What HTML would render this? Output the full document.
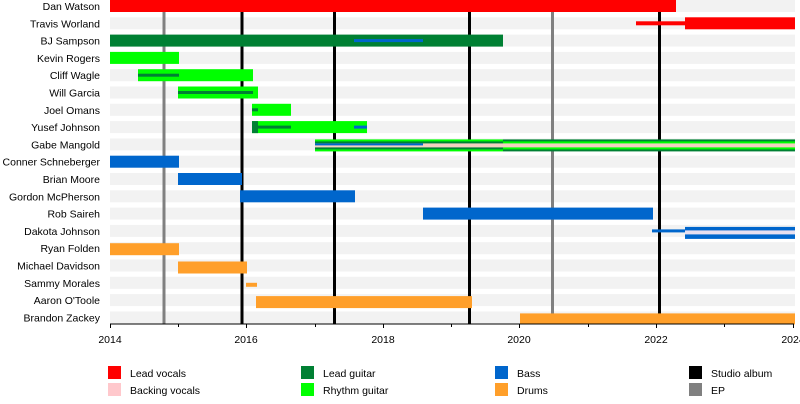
<!DOCTYPE html>
<html><head><meta charset="utf-8"><style>
html,body{margin:0;padding:0;background:#fff;width:800px;height:404px;overflow:hidden}
svg{display:block;font-family:"Liberation Sans",sans-serif}
</style></head><body>
<svg width="800" height="404" viewBox="0 0 800 404">
<g fill="#f2f2f2">
<rect x="110" y="0" width="685" height="12"/><rect x="110" y="17.3" width="685" height="12"/><rect x="110" y="34.6" width="685" height="12"/><rect x="110" y="51.9" width="685" height="12"/><rect x="110" y="69.2" width="685" height="12"/><rect x="110" y="86.5" width="685" height="12"/><rect x="110" y="103.8" width="685" height="12"/><rect x="110" y="121.1" width="685" height="12"/><rect x="110" y="138.4" width="685" height="12"/><rect x="110" y="155.7" width="685" height="12"/><rect x="110" y="173" width="685" height="12"/><rect x="110" y="190.3" width="685" height="12"/><rect x="110" y="207.6" width="685" height="12"/><rect x="110" y="224.9" width="685" height="12"/><rect x="110" y="242.2" width="685" height="12"/><rect x="110" y="259.5" width="685" height="12"/><rect x="110" y="276.8" width="685" height="12"/><rect x="110" y="294.1" width="685" height="12"/><rect x="110" y="311.4" width="685" height="12"/>
</g>
<g font-size="10.5" fill="#000" text-anchor="end">
<text x="100" y="10">Dan Watson</text><text x="100" y="27.3">Travis Worland</text><text x="100" y="44.6">BJ Sampson</text><text x="100" y="61.9">Kevin Rogers</text><text x="100" y="79.2">Cliff Wagle</text><text x="100" y="96.5">Will Garcia</text><text x="100" y="113.8">Joel Omans</text><text x="100" y="131.1">Yusef Johnson</text><text x="100" y="148.4">Gabe Mangold</text><text x="100" y="165.7">Conner Schneberger</text><text x="100" y="183">Brian Moore</text><text x="100" y="200.3">Gordon McPherson</text><text x="100" y="217.6">Rob Saireh</text><text x="100" y="234.9">Dakota Johnson</text><text x="100" y="252.2">Ryan Folden</text><text x="100" y="269.5">Michael Davidson</text><text x="100" y="286.8">Sammy Morales</text><text x="100" y="304.1">Aaron O'Toole</text><text x="100" y="321.4">Brandon Zackey</text>
</g>
<g>
<rect x="162.5" y="12" width="3" height="312" fill="#808080"/>
<rect x="240.5" y="12" width="3" height="312" fill="#000"/>
<rect x="333" y="12" width="3" height="312" fill="#000"/>
<rect x="468" y="12" width="3" height="312" fill="#000"/>
<rect x="551" y="12" width="3" height="312" fill="#808080"/>
<rect x="658" y="12" width="3" height="312" fill="#000"/>
</g>
<rect x="110" y="0" width="566" height="12" fill="#ff0000"/>
<rect x="636" y="21.3" width="49" height="4" fill="#ff0000"/>
<rect x="685" y="17.3" width="110" height="12" fill="#ff0000"/>
<rect x="110" y="34.6" width="393" height="12" fill="#008033"/>
<rect x="354" y="39.1" width="69" height="3" fill="#0066cc"/>
<rect x="110" y="51.9" width="69" height="12" fill="#00ff00"/>
<rect x="138" y="69.2" width="115" height="12" fill="#00ff00"/>
<rect x="138" y="73.7" width="41" height="3" fill="#008033"/>
<rect x="178" y="86.5" width="80" height="12" fill="#00ff00"/>
<rect x="178" y="91" width="75" height="3" fill="#008033"/>
<rect x="252" y="103.8" width="39" height="12" fill="#00ff00"/>
<rect x="252" y="108.3" width="6" height="3" fill="#008033"/>
<rect x="252" y="121.1" width="115" height="12" fill="#00ff00"/>
<rect x="252" y="125.6" width="39" height="3" fill="#008033"/>
<rect x="252" y="121.1" width="6" height="12" fill="#008033"/>
<rect x="354" y="125.6" width="13" height="3" fill="#0066cc"/>
<rect x="315" y="139.4" width="188" height="12" fill="#00ff00"/>
<rect x="503" y="139.4" width="292" height="12" fill="#008033"/>
<rect x="315" y="141.4" width="188" height="8" fill="#008033"/>
<rect x="503" y="141.4" width="292" height="8" fill="#00ff00"/>
<rect x="315" y="143.4" width="480" height="4" fill="#f5d0c0"/>
<rect x="315" y="143.4" width="108" height="2" fill="#0066cc"/>
<rect x="110" y="155.7" width="69" height="12" fill="#0066cc"/>
<rect x="178" y="173" width="64" height="12" fill="#0066cc"/>
<rect x="240" y="190.3" width="115" height="12" fill="#0066cc"/>
<rect x="423" y="207.6" width="230" height="12" fill="#0066cc"/>
<rect x="652" y="229.4" width="33" height="3" fill="#0066cc"/>
<rect x="685" y="226.9" width="110" height="12" fill="#0066cc"/>
<rect x="685" y="230.4" width="110" height="4" fill="#e8e0f0"/>
<rect x="110" y="243.2" width="69" height="12" fill="#ff9f2a"/>
<rect x="178" y="261.5" width="69" height="12" fill="#ff9f2a"/>
<rect x="246" y="282.8" width="11" height="4" fill="#ff9f2a"/>
<rect x="256" y="296.1" width="216" height="12" fill="#ff9f2a"/>
<rect x="520" y="313.4" width="275" height="11" fill="#ff9f2a"/>
<rect x="110" y="323.5" width="684" height="1" fill="#000"/>
<g fill="#000">
<rect x="110" y="324" width="1" height="4"/><rect x="178" y="324" width="1" height="3"/><rect x="246" y="324" width="1" height="4"/><rect x="315" y="324" width="1" height="3"/><rect x="383" y="324" width="1" height="4"/><rect x="451" y="324" width="1" height="3"/><rect x="519" y="324" width="1" height="4"/><rect x="588" y="324" width="1" height="3"/><rect x="656" y="324" width="1" height="4"/><rect x="724" y="324" width="1" height="3"/><rect x="793" y="324" width="1" height="4"/>
</g>
<g font-size="10.5" text-anchor="middle">
<text x="110" y="343">2014</text><text x="246" y="343">2016</text><text x="383" y="343">2018</text><text x="519" y="343">2020</text><text x="656" y="343">2022</text><text x="793" y="343">2024</text>
</g>
<rect x="108" y="366" width="13" height="13" fill="#ff0000"/>
<rect x="108" y="383" width="13" height="13" fill="#ffc8cc"/>
<rect x="301" y="366" width="13" height="13" fill="#008033"/>
<rect x="301" y="383" width="13" height="13" fill="#00ff00"/>
<rect x="495" y="366" width="13" height="13" fill="#0066cc"/>
<rect x="495" y="383" width="13" height="13" fill="#ff9f2a"/>
<rect x="689" y="366" width="13" height="13" fill="#000"/>
<rect x="689" y="383" width="13" height="13" fill="#808080"/>
<g font-size="10.5">
<text x="130" y="377">Lead vocals</text><text x="130" y="394">Backing vocals</text>
<text x="323" y="377">Lead guitar</text><text x="323" y="394">Rhythm guitar</text>
<text x="517" y="377">Bass</text><text x="517" y="394">Drums</text>
<text x="711" y="377">Studio album</text><text x="711" y="394">EP</text>
</g>
</svg>
</body></html>
